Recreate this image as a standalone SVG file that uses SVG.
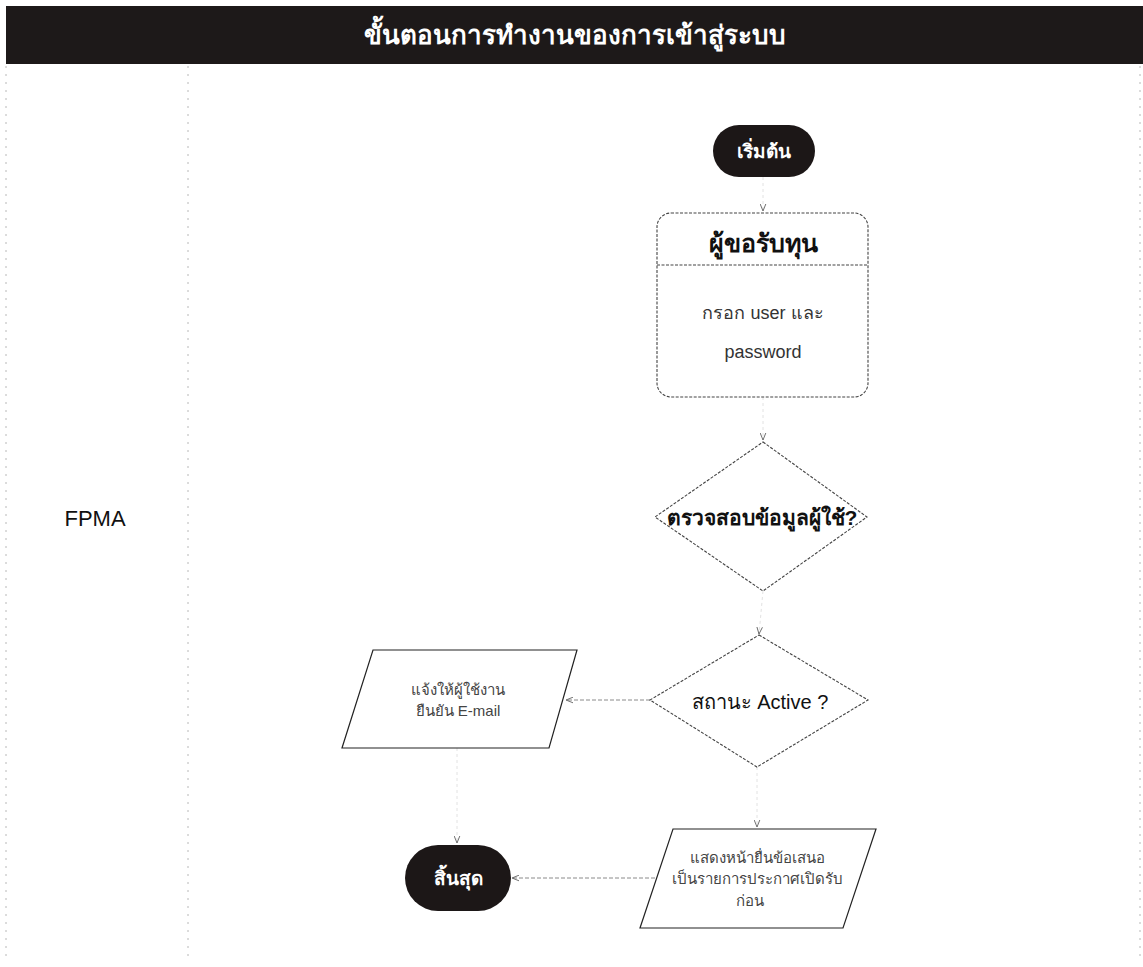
<svg xmlns="http://www.w3.org/2000/svg" width="1143" height="967" viewBox="0 0 1143 967">
<style>
  text { font-family: "Liberation Sans", "DejaVu Sans", "Noto Sans", sans-serif; text-anchor: middle; dominant-baseline: central; }
  .lane { stroke: #b8b8b8; stroke-width: 1; stroke-dasharray: 2 6; fill: none; }
  .term { fill: #1c1717; }
  .termtxt { fill: #ffffff; font-weight: bold; font-size: 19px; }
  .shape { fill: #ffffff; stroke: #444; stroke-width: 1.1; stroke-dasharray: 3 1.5; }
  .para { fill: #ffffff; stroke: #222; stroke-width: 1.2; }
  .conn { stroke: #8a8a8a; stroke-width: 1; stroke-dasharray: 4 2; fill: none; }
  .vconn { stroke: #e2e2e2; stroke-width: 1; stroke-dasharray: 3 3; fill: none; }
  .body { fill: #333; font-size: 18px; }
  .small { fill: #444; font-size: 15px; }
  .dtxt { fill: #111; font-weight: bold; font-size: 21px; }
</style>
<defs>
  <marker id="ah" viewBox="0 0 10 10" refX="10" refY="5" markerWidth="7" markerHeight="7" orient="auto" markerUnits="userSpaceOnUse">
    <path d="M0,1 L10,5 L0,9" fill="none" stroke="#555" stroke-width="1.2"/>
  </marker>
</defs>

<g id="header">
  <rect x="6" y="6" width="1137" height="58" fill="#1d1919"/>
  <text x="575" y="35" fill="#ffffff" font-weight="bold" font-size="26">ขั้นตอนการทำงานของการเข้าสู่ระบบ</text>
</g>

<g id="lane">
  <line class="lane" x1="6" y1="66" x2="6" y2="960"/>
  <line class="lane" x1="188" y1="66" x2="188" y2="960"/>
  <line class="lane" x1="1140" y1="66" x2="1140" y2="960"/>
  <text x="95" y="518" font-size="22" fill="#111">FPMA</text>
</g>

<g id="connectors">
  <line class="vconn" x1="763" y1="177" x2="763" y2="211" marker-end="url(#ah)"/>
  <line class="vconn" x1="763" y1="397" x2="763" y2="440" marker-end="url(#ah)"/>
  <line class="vconn" x1="763" y1="591" x2="759" y2="634" marker-end="url(#ah)"/>
  <line class="conn" x1="650" y1="700" x2="566" y2="700" marker-end="url(#ah)"/>
  <line class="vconn" x1="757" y1="767" x2="757" y2="827" marker-end="url(#ah)"/>
  <line class="conn" x1="655" y1="878" x2="512" y2="878" marker-end="url(#ah)"/>
  <line class="vconn" x1="457" y1="748" x2="457" y2="843" marker-end="url(#ah)"/>
</g>

<g id="start">
  <rect class="term" x="713" y="125" width="102" height="52" rx="26"/>
  <text class="termtxt" x="764" y="151">เริ่มต้น</text>
</g>

<g id="applicant">
  <rect class="shape" x="657" y="213" width="211" height="184" rx="14"/>
  <line class="shape" x1="657" y1="265" x2="868" y2="265"/>
  <text x="763" y="243" font-weight="bold" font-size="25" fill="#111">ผู้ขอรับทุน</text>
  <text class="body" x="763" y="313">กรอก user และ</text>
  <text class="body" x="763" y="352">password</text>
</g>

<g id="check">
  <polygon class="shape" points="763,442 867,517 763,591 655,517"/>
  <text class="dtxt" x="762" y="517">ตรวจสอบข้อมูลผู้ใช้?</text>
</g>

<g id="active">
  <polygon class="shape" points="759,635 868,700 757,767 650,700"/>
  <text x="760" y="702" font-size="20" fill="#111">สถานะ Active ?</text>
</g>

<g id="notify">
  <polygon class="para" points="373,650 577,650 549,748 342,748"/>
  <text class="small" x="458" y="689">แจ้งให้ผู้ใช้งาน</text>
  <text class="small" x="458" y="710">ยืนยัน E-mail</text>
</g>

<g id="show">
  <polygon class="para" points="673,829 876,829 843,928 640,928"/>
  <text class="small" x="757" y="857">แสดงหน้ายื่นข้อเสนอ</text>
  <text class="small" x="757" y="878">เป็นรายการประกาศเปิดรับ</text>
  <text class="small" x="750" y="900">ก่อน</text>
</g>

<g id="end">
  <rect class="term" x="405" y="845" width="106" height="66" rx="33"/>
  <text class="termtxt" x="458" y="878">สิ้นสุด</text>
</g>
</svg>
